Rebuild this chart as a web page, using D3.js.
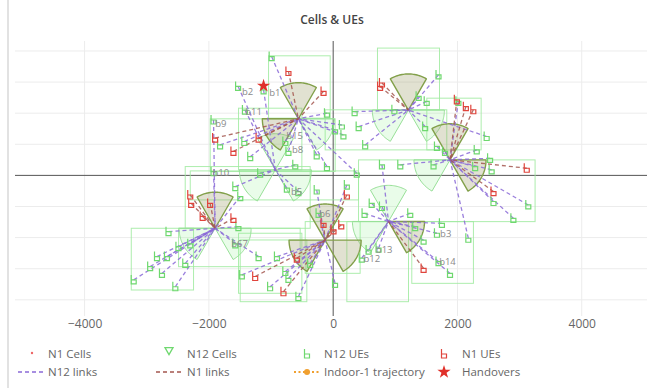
<!DOCTYPE html>
<html>
<head>
<meta charset="utf-8">
<script src="https://cdn.jsdelivr.net/npm/d3@7"></script>
<style>
  html, body { margin: 0; padding: 0; background: #fff; }
  svg { display: block; font-family: "Open Sans", "Noto Sans", sans-serif; }
</style>
</head>
<body>
<script>
// ---- Cell sites (metres) ----
const siteX = [-560, 1210, 1880, 890, -130, -1900, -930];
const siteY = [910, 1050, 250, -740, -1040, -850, 90];
const sectorAzimuths = [0, 120, 240];
// 1 = shaded (active) sector, order follows sectorAzimuths
const sectorShaded = [
  [1, 0, 1],
  [1, 0, 0],
  [1, 1, 0],
  [0, 1, 0],
  [1, 1, 1],
  [1, 0, 0],
  [0, 0, 0]
];
const sectorRadius = 580;
const beamWidth = 60;

// ---- N12 UEs: position and serving site ----
const n12UeX = [-990, -1530, -1120, -1420, -1925, -1820, -1430, -1335, -770, -720,
  -100, 30, 165, 140, -100, 380, 345, 410, 985, 1375,
  1505, 1480, 1695, 1670, 1800, 2015, 2470, 2310, 2525, 2285,
  2550, 2580, 3140, 2900, 2175, 1750, 1670, 1695, 1880, 1455,
  1320, 1240, 785, 620, 505, 785, 1080, 1615, 460, 570,
  730, 30, 220, -235, -265, -560, -745, -610, -1925, -1175,
  -1575, -1495, -1525, -1575, -1200, -2650, -2835, -2945, -3210, -2755,
  -2675, -2380, -2540, -2300, -2490, -1470, -1015, -560, -720, -770,
  -370, -905, -265, 515];
const n12UeY = [1910, 1430, 1375, 1050, 890, 490, 545, 300, 545, 385,
  1000, 730, 650, 810, 140, 35, 1025, 785, 1055, 1270,
  1190, 785, 1615, 465, 385, 1190, 625, 410, 275, 140,
  90, -420, -475, -690, -1010, -770, -930, -1385, -1575, -1040,
  -825, -610, -500, -450, -610, 170, 170, 170, -1330, -1200,
  -1170, -1735, -155, -610, -235, -260, -205, 170, 60, 35,
  -180, -340, -825, -1100, -1305, -905, -1305, -1465, -1680, -1575,
  -1305, -1415, -1790, -1100, -1145, -1600, -1790, -1950, -1655, -1545,
  -1415, -1305, 330, 490];
const n12UeSite = [0, 6, 6, 6, 5, 0, 0, 0, 0, 0,
  0, 0, 0, 0, 0, 0, 1, 1, 1, 1,
  1, 1, 1, 2, 2, 2, 1, 2, 2, 2,
  2, 2, 2, 2, 2, 3, 3, 3, 3, 3,
  3, 3, 3, 3, 3, 3, 2, 2, 3, 3,
  3, 4, 4, 4, 4, 6, 6, 6, 5, 6,
  6, 5, 5, 5, 5, 5, 5, 5, 5, 5,
  5, 5, 5, 5, 5, 4, 4, 4, 4, 4,
  4, 4, 0, 1];

// ---- N1 UEs: position and serving site ----
const n1UeX = [-720, -155, 785, 755, 1990, 2135, 2255, 3115, 2580, -1900,
  -1605, -1200, -2300, -2285, -1980, -2100, -1605, 220, -155, 130,
  5, -585, -1255, -800, 1455];
const n1UeY = [1670, 1350, 1485, 1430, 1215, 1105, 1055, 115, -260, 600,
  385, 600, -315, -450, -450, -660, -690, -315, -770, -795,
  -875, -1330, -1625, -1870, -1495];
const n1UeSite = [0, 0, 1, 1, 2, 2, 2, 2, 2, 0,
  0, 0, 5, 5, 5, 5, 5, 4, 4, 4,
  4, 4, 4, 4, 3];

// ---- UE name tags ----
const ueLabels = ["b2", "b1", "b11", "b9", "b15", "b8", "b10", "b5", "b67", "b6", "b13", "b12", "b3", "b14"];
const ueLabelX = [-1469, -1030, -1416, -1898, -756, -664, -1942, -680, -1641, -225, 687, 487, 1721, 1705];
const ueLabelY = [1348, 1332, 1026, 828, 640, 415, 45, -261, -1102, -608, -1200, -1340, -930, -1387];

// ---- Handover events ----
const handoverX = [-1120];
const handoverY = [1440];

// ---- Coverage boxes [x0, x1, y0, y1] ----
const boxX0 = [-1040, 713, 1507, -129, -1979, -1523, -2381, -2300, 408, -3249, -2488, -1523, -1496, -450, 220, 1265];
const boxX1 = [-48, 1711, 2381, 1828, 32, -504, -370, 408, 3249, -2247, -531, -504, -424, 434, 1212, 2257];
const boxY0 = [920, 1054, 410, 410, 62, 88, -850, -394, -743, -1842, -1467, -1895, -2030, -1574, -2030, -1735];
const boxY1 = [1922, 2046, 1241, 1054, 909, 1080, 142, 72, 249, -850, -850, -930, -1038, -743, -743, -743];

// ---- Axes ----
const xTicks = [-4000, -2000, 0, 2000, 4000];
const yGrid = [-2000, -1500, -1000, -500, 500, 1000, 1500, 2000];

const W = 651, H = 388;
const plot = { left: 15, right: 647, top: 41, bottom: 316 };

const x = d3.scaleLinear().domain([-5120, 5050]).range([plot.left, plot.right]);
const y = d3.scaleLinear().domain([-2260, 2160]).range([plot.bottom, plot.top]);

const svg = d3.select("body").append("svg").attr("width", W).attr("height", H);

// card edge
svg.append("line").attr("x1", 8).attr("x2", 8).attr("y1", 0).attr("y2", H)
  .attr("stroke", "#e2e2e2").attr("stroke-width", 2);

svg.append("defs").append("clipPath").attr("id", "plotclip")
  .append("rect").attr("x", plot.left).attr("y", plot.top)
  .attr("width", plot.right - plot.left).attr("height", plot.bottom - plot.top);

// title
svg.append("text").attr("x", 332).attr("y", 24).attr("text-anchor", "middle")
  .attr("font-size", 12).attr("font-weight", 600).attr("fill", "#444")
  .text("Cells & UEs");

// grid
const grid = svg.append("g");
grid.selectAll("line.gx").data(xTicks.filter(d => d !== 0)).join("line")
  .attr("x1", d => x(d)).attr("x2", d => x(d))
  .attr("y1", plot.top).attr("y2", plot.bottom)
  .attr("stroke", "#ececec").attr("stroke-width", 1);
grid.selectAll("line.gy").data(yGrid).join("line")
  .attr("x1", plot.left).attr("x2", plot.right)
  .attr("y1", d => y(d)).attr("y2", d => y(d))
  .attr("stroke", "#ececec").attr("stroke-width", 1);
// zero lines
grid.append("line").attr("x1", x(0)).attr("x2", x(0)).attr("y1", plot.top).attr("y2", plot.bottom)
  .attr("stroke", "#555").attr("stroke-width", 1);
grid.append("line").attr("x1", plot.left).attr("x2", plot.right).attr("y1", y(0)).attr("y2", y(0))
  .attr("stroke", "#555").attr("stroke-width", 1);

// x axis labels
const xAxis = d3.axisBottom(x).tickValues(xTicks).tickFormat(d3.format("d")).tickSize(0).tickPadding(4);
const gx = svg.append("g").attr("transform", `translate(0,${plot.bottom - 1})`).call(xAxis);
gx.select(".domain").remove();
gx.selectAll("text").attr("font-size", 12).attr("fill", "#666")
  .attr("font-family", "'Open Sans', 'Noto Sans', sans-serif");

const layer = svg.append("g").attr("clip-path", "url(#plotclip)");

// coverage boxes
layer.append("g").selectAll("rect").data(boxX0.map((d, i) => i)).join("rect")
  .attr("x", i => x(boxX0[i])).attr("y", i => y(boxY1[i]))
  .attr("width", i => x(boxX1[i]) - x(boxX0[i]))
  .attr("height", i => y(boxY0[i]) - y(boxY1[i]))
  .attr("fill", "none").attr("stroke", "#9fea9f").attr("stroke-width", 1).attr("opacity", 0.85);

// sectors
const sectors = [];
siteX.forEach((sx, i) => {
  sectorAzimuths.forEach((az, k) => {
    const pts = [[sx, siteY[i]]];
    for (let a = az - beamWidth / 2; a <= az + beamWidth / 2 + 1e-9; a += 2) {
      const r = a * Math.PI / 180;
      pts.push([sx + sectorRadius * Math.sin(r), siteY[i] + sectorRadius * Math.cos(r)]);
    }
    sectors.push({ pts, shaded: sectorShaded[i][k] });
  });
});
const poly = d3.line().x(d => x(d[0])).y(d => y(d[1]));
sectors.sort((a, b) => a.shaded - b.shaded);
layer.append("g").selectAll("path").data(sectors).join("path")
  .attr("d", d => poly(d.pts) + "Z")
  .attr("fill", d => d.shaded ? "rgba(165,165,115,0.33)" : "rgba(144,238,144,0.2)")
  .attr("stroke", d => d.shaded ? "#82a04a" : "#98e098")
  .attr("stroke-width", d => d.shaded ? 1.4 : 1)
  .attr("stroke-linejoin", "round");

// N1 cells (site points)
layer.append("g").selectAll("circle").data(siteX.map((d, i) => i)).join("circle")
  .attr("cx", i => x(siteX[i])).attr("cy", i => y(siteY[i])).attr("r", 1)
  .attr("fill", "#e55");

// links
layer.append("g").selectAll("line").data(n12UeX.map((d, i) => i)).join("line")
  .attr("x1", i => x(n12UeX[i])).attr("y1", i => y(n12UeY[i]))
  .attr("x2", i => x(siteX[n12UeSite[i]])).attr("y2", i => y(siteY[n12UeSite[i]]))
  .attr("stroke", "#8a6ad8").attr("stroke-width", 1.3).attr("stroke-dasharray", "4,3")
  .attr("opacity", 0.85);
layer.append("g").selectAll("line").data(n1UeX.map((d, i) => i)).join("line")
  .attr("x1", i => x(n1UeX[i])).attr("y1", i => y(n1UeY[i]))
  .attr("x2", i => x(siteX[n1UeSite[i]])).attr("y2", i => y(siteY[n1UeSite[i]]))
  .attr("stroke", "#a4574f").attr("stroke-width", 1.3).attr("stroke-dasharray", "4,3")
  .attr("opacity", 0.85);

// UE glyph: handset outline
const ueGlyph = "M-2.5,-5 L-2.5,4 L2.5,4 L2.5,0 L-2.5,0";
function drawUes(g, xs, ys, color) {
  g.selectAll("path").data(xs.map((d, i) => i)).join("path")
    .attr("transform", i => `translate(${x(xs[i])},${y(ys[i])})`)
    .attr("d", ueGlyph).attr("fill", "none")
    .attr("stroke", color).attr("stroke-width", 1.2);
}
drawUes(layer.append("g"), n12UeX, n12UeY, "#6fd86f");
drawUes(layer.append("g"), n1UeX, n1UeY, "#e0443c");

// name tags
layer.append("g").selectAll("text").data(ueLabels).join("text")
  .attr("x", (d, i) => x(ueLabelX[i])).attr("y", (d, i) => y(ueLabelY[i]))
  .attr("dy", "0.35em").attr("font-size", 9.5).attr("fill", "#8a8a8a")
  .text(d => d);

// handovers
const star = d3.symbol().type(d3.symbolStar).size(55);
layer.append("g").selectAll("path").data(handoverX.map((d, i) => i)).join("path")
  .attr("transform", i => `translate(${x(handoverX[i])},${y(handoverY[i])})`)
  .attr("d", star()).attr("fill", "#e0302a");

// legend
const leg = svg.append("g").attr("font-size", 11.5).attr("fill", "#666");
const row1 = 354, row2 = 372;
function legText(tx, ty, s) {
  leg.append("text").attr("x", tx).attr("y", ty).attr("dy", "0.35em").text(s);
}
leg.append("circle").attr("cx", 32).attr("cy", row1 - 1).attr("r", 1.2).attr("fill", "#e66");
legText(48, row1, "N1 Cells");
leg.append("path")
  .attr("d", d3.symbol().type(d3.symbolTriangle).size(28)()).attr("transform", `translate(169,${row1 - 4}) rotate(180)`)
  .attr("fill", "none").attr("stroke", "#6fd86f").attr("stroke-width", 1.3);
legText(187, row1, "N12 Cells");
leg.append("path").attr("transform", `translate(307,${row1})`).attr("d", ueGlyph)
  .attr("fill", "none").attr("stroke", "#6fd86f").attr("stroke-width", 1.2);
legText(324, row1, "N12 UEs");
leg.append("path").attr("transform", `translate(444,${row1})`).attr("d", ueGlyph)
  .attr("fill", "none").attr("stroke", "#e0443c").attr("stroke-width", 1.2);
legText(462, row1, "N1 UEs");

leg.append("line").attr("x1", 18).attr("x2", 44).attr("y1", row2).attr("y2", row2)
  .attr("stroke", "#8a6ad8").attr("stroke-width", 1.3).attr("stroke-dasharray", "4,3");
legText(48, row2, "N12 links");
leg.append("line").attr("x1", 156).attr("x2", 182).attr("y1", row2).attr("y2", row2)
  .attr("stroke", "#a4574f").attr("stroke-width", 1.3).attr("stroke-dasharray", "4,3");
legText(187, row2, "N1 links");
leg.append("line").attr("x1", 294).attr("x2", 321).attr("y1", row2).attr("y2", row2)
  .attr("stroke", "#f0a030").attr("stroke-width", 2).attr("stroke-dasharray", "2,2.5");
leg.append("circle").attr("cx", 307).attr("cy", row2).attr("r", 3).attr("fill", "#f0a030");
legText(324, row2, "Indoor-1 trajectory");
leg.append("path").attr("transform", `translate(444,${row2})`).attr("d", star()).attr("fill", "#e0302a");
legText(462, row2, "Handovers");
</script>
</body>
</html>
